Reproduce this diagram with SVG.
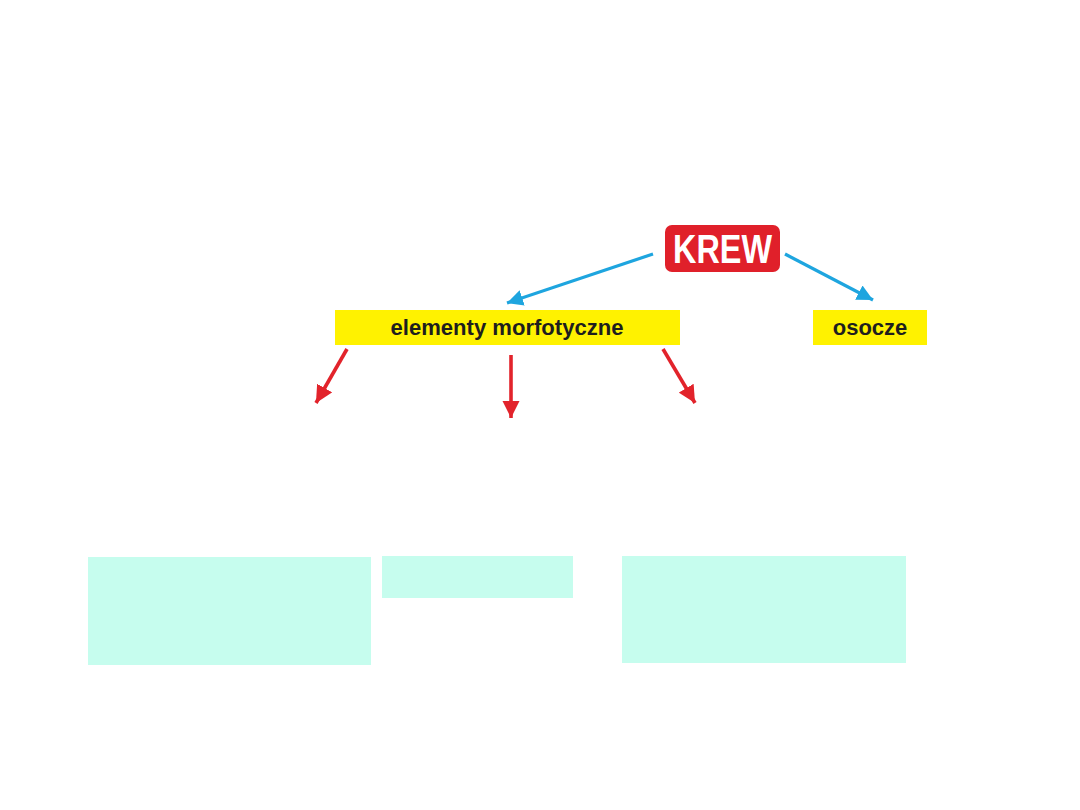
<svg xmlns="http://www.w3.org/2000/svg" width="1080" height="810" viewBox="0 0 1080 810">
<defs>
<style>
.lbl{font-family:"Liberation Sans",Arial,sans-serif;font-weight:bold;font-size:22px;fill:#1e1e1e;text-anchor:middle}
.yel{fill:#fff200}
.cyan{fill:#c6fdee}
.blue{stroke:#1ea5df;stroke-width:3.2;fill:none}
.red{stroke:#e2232b;stroke-width:3.6;fill:none}
</style>
<marker id="ab" viewBox="0 0 10 10" refX="10" refY="5" markerWidth="5" markerHeight="5" markerUnits="strokeWidth" orient="auto"><path d="M0,0 L10,5 L0,10 z" fill="#1ea5df"/></marker>
<marker id="ar" viewBox="0 0 10 10" refX="10" refY="5" markerWidth="4.8" markerHeight="4.8" markerUnits="strokeWidth" orient="auto"><path d="M0,0 L10,5 L0,10 z" fill="#e2232b"/></marker>
</defs>
<rect width="1080" height="810" fill="#ffffff"/>
<g id="connectors">
<line class="blue" x1="653" y1="254" x2="507" y2="303" marker-end="url(#ab)"/>
<line class="blue" x1="785" y1="254" x2="873" y2="300" marker-end="url(#ab)"/>
<line class="red" x1="347" y1="349" x2="316" y2="403" marker-end="url(#ar)"/>
<line class="red" x1="511" y1="355" x2="511" y2="418" marker-end="url(#ar)"/>
<line class="red" x1="663" y1="349" x2="695" y2="403" marker-end="url(#ar)"/>
</g>
<g id="krew">
<rect x="665" y="225" width="115" height="47" rx="7" fill="#e0202a"/>
<text x="722.5" y="263" font-family="'Liberation Sans',Arial,sans-serif" font-weight="bold" font-size="40" fill="#ffffff" text-anchor="middle" textLength="99" lengthAdjust="spacingAndGlyphs">KREW</text>
</g>
<g id="elementy">
<rect class="yel" x="335" y="310" width="345" height="35"/>
<text class="lbl" x="507" y="335" textLength="233" lengthAdjust="spacingAndGlyphs">elementy  morfotyczne</text>
</g>
<g id="osocze">
<rect class="yel" x="813" y="310" width="114" height="35"/>
<text class="lbl" x="870" y="335">osocze</text>
</g>
<g id="box1"><rect class="cyan" x="88" y="557" width="283" height="108"/></g>
<g id="box2"><rect class="cyan" x="382" y="556" width="191" height="42"/></g>
<g id="box3"><rect class="cyan" x="622" y="556" width="284" height="107"/></g>
</svg>
